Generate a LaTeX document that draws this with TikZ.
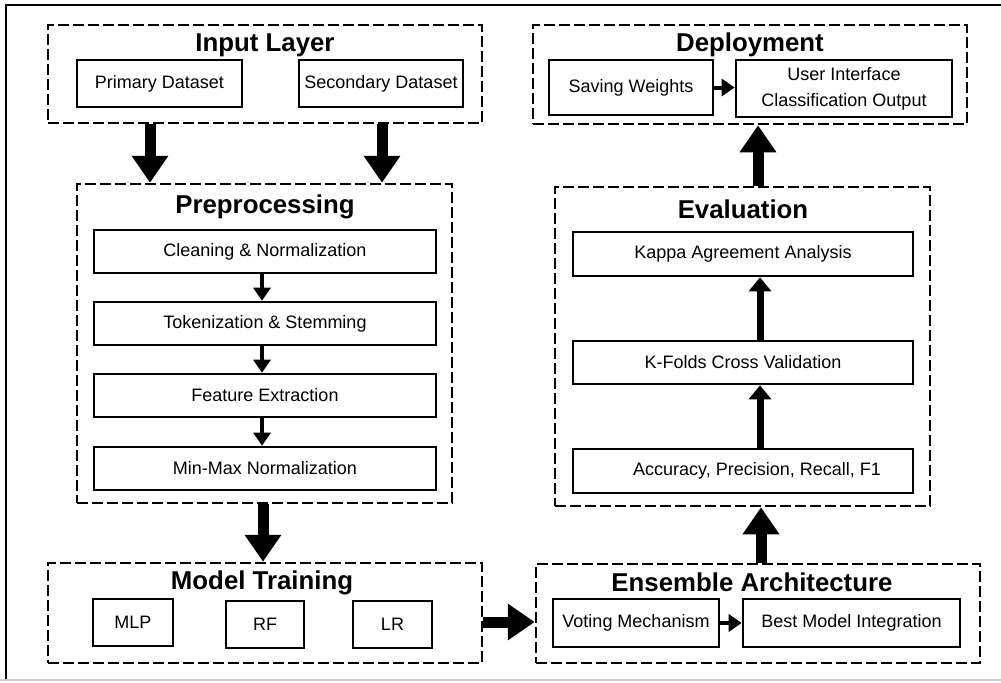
\documentclass[tikz,border=0pt]{standalone}
\usepackage{fontspec}
\setmainfont{Liberation Sans}
\usetikzlibrary{arrows.meta}

\tikzset{
  stage/.style={draw, line width=1.25pt, dash pattern=on 5.5pt off 2pt, inner sep=0pt},
  stagetitle/.style={font=\bfseries\fontsize{12.9}{15}\selectfont, inner sep=0pt},
  box/.style={draw, line width=1.3pt, inner sep=0pt, align=center,
    font=\fontsize{9}{13}\selectfont},
  bigarrow/.style={line width=5.5pt, -{Triangle[width=17.5pt,length=13.5pt]}},
  midarrow/.style={line width=3.5pt, -{Triangle[width=11pt,length=7pt]}},
  smallarrow/.style={line width=2pt, -{Triangle[width=8.5pt,length=6.5pt]}}
}

\begin{document}
\begin{tikzpicture}[x=0.5pt,y=-0.5pt]

% page size:
\useasboundingbox (0,0) rectangle (1001,682);

% frame:
\draw[line width=1.2pt] (6,680) -- (6,5) -- (1001,5);
\draw[black!20, line width=1pt] (0,680) -- (1001,680);

% input layer
\node[stage, minimum width=217pt, minimum height=49pt] (inp) at (265,74) {};
\node[stagetitle] (inptitle) at (265,45) {Input Layer};
\node[box, minimum width=82.5pt, minimum height=23.5pt] (prim) at (159.5,83.5) {Primary Dataset};
\node[box, minimum width=82pt, minimum height=23.5pt] (sec) at (381,83.5) {Secondary Dataset};

% preprocessing
\node[stage, minimum width=187.5pt, minimum height=159.5pt] (pre) at (264.5,343.5) {};
\node[stagetitle] (pretitle) at (265,207) {Preprocessing};
\node[box, minimum width=171pt, minimum height=21.5pt] (clean) at (265,251.5) {Cleaning \& Normalization};
\node[box, minimum width=171pt, minimum height=21.5pt] (token) at (265,323.5) {Tokenization \& Stemming};
\node[box, minimum width=171pt, minimum height=21.5pt] (feat) at (265,395.5) {Feature Extraction};
\node[box, minimum width=171pt, minimum height=21.5pt] (minmax) at (265,468.5) {Min-Max Normalization};

% model training
\node[stage, minimum width=217pt, minimum height=50pt] (train) at (265,613) {};
\node[stagetitle] (traintitle) at (262,583) {Model Training};
\node[box, minimum width=40pt, minimum height=23.5pt] (mlp) at (133,622.5) {MLP};
\node[box, minimum width=39pt, minimum height=23.5pt] (rf) at (265,624.5) {RF};
\node[box, minimum width=39.5pt, minimum height=23.5pt] (lr) at (392.5,624.5) {LR};

% ensemble
\node[stage, minimum width=222pt, minimum height=49.5pt] (ens) at (758,613.5) {};
\node[stagetitle] (enstitle) at (752,582) {Ensemble Architecture};
\node[box, minimum width=83pt, minimum height=24pt] (vote) at (636,623) {Voting Mechanism};
\node[box, minimum width=108.5pt, minimum height=24pt] (best) at (851.5,623) {Best Model Integration};

% evaluation
\node[stage, minimum width=187.5pt, minimum height=159.5pt] (eval) at (742.5,346.5) {};
\node[stagetitle] (evaltitle) at (743,209) {Evaluation};
\node[box, minimum width=170pt, minimum height=22pt] (kappa) at (743,254) {Kappa Agreement Analysis};
\node[box, minimum width=170pt, minimum height=21.5pt] (kfold) at (743,362.5) {K-Folds Cross Validation};
\node[box, minimum width=170pt, minimum height=22pt] (acc) at (743,471) {\hspace{14pt}Accuracy, Precision, Recall, F1};

% deployment
\node[stage, minimum width=217pt, minimum height=49.5pt] (dep) at (750,74.5) {};
\node[stagetitle] (deptitle) at (750,45) {Deployment};
\node[box, minimum width=82pt, minimum height=27.5pt] (save) at (631,87.5) {Saving Weights};
\node[box, minimum width=108pt, minimum height=28.5pt] (ui) at (844,88.5) {User Interface\\Classification Output};

% stage to stage
\draw[bigarrow] (inp.south -| 150,0) -- (pre.north -| 150,0);
\draw[bigarrow] (inp.south -| 382,0) -- (pre.north -| 382,0);
\draw[bigarrow] (pre.south -| 263,0) -- (train.north -| 263,0);
\draw[bigarrow] (train.east |- 0,622) -- (ens.west |- 0,622);
\draw[bigarrow] (ens.north -| 761,0) -- (eval.south -| 761,0);
\draw[bigarrow] (eval.north -| 758,0) -- (dep.south -| 758,0);

% inside the stages
\draw[smallarrow] (clean.south -| 262,0) -- (token.north -| 262,0);
\draw[smallarrow] (token.south -| 262,0) -- (feat.north -| 262,0);
\draw[smallarrow] (feat.south -| 262,0) -- (minmax.north -| 262,0);
\draw[midarrow] (acc.north -| 760,0) -- (kfold.south -| 760,0);
\draw[midarrow] (kfold.north -| 760,0) -- (kappa.south -| 760,0);
\draw[smallarrow] (vote.east) -- (best.west |- vote.east);
\draw[smallarrow] (save.east) -- (ui.west |- save.east);

\end{tikzpicture}
\end{document}
